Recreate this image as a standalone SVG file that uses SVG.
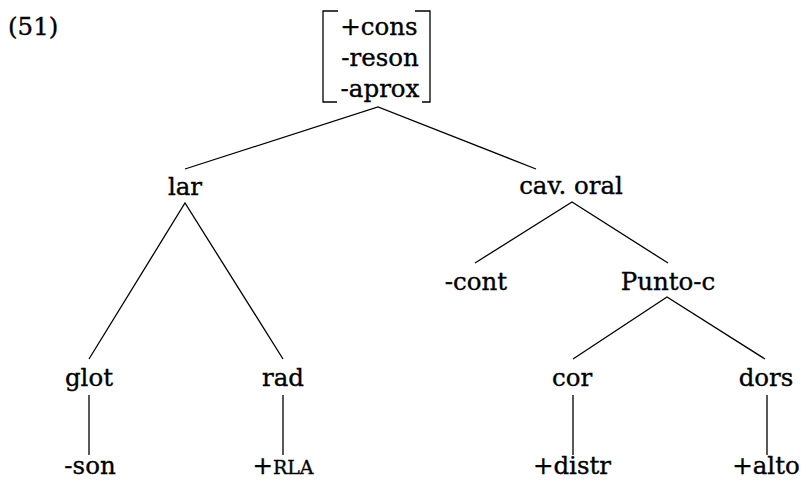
<svg xmlns="http://www.w3.org/2000/svg" width="801" height="483" viewBox="0 0 801 483">
<style>
text{font-family:"DejaVu Serif","Liberation Serif",serif;font-size:24.5px;fill:#000;stroke:#000;stroke-width:0.35;text-anchor:middle}
.l{stroke:#000;stroke-width:1.3;fill:none}
.sc{font-size:19px}
</style>
<rect width="801" height="483" fill="#fff"/>
<text x="8" y="35" style="text-anchor:start">(51)</text>
<g id="root">
<path class="l" d="M338,11H323V102H337M415,11H430V102H422"/>
<text x="379" y="35">+cons</text>
<text x="380" y="66">-reson</text>
<text x="380" y="97">-aprox</text>
</g>
<g id="lar"><text x="185" y="195">lar</text></g>
<g id="cavoral"><text x="571" y="194">cav. oral</text></g>
<g id="cont"><text x="476" y="290">-cont</text></g>
<g id="punto"><text x="668" y="290">Punto-c</text></g>
<g id="glot"><text x="89" y="386">glot</text></g>
<g id="rad"><text x="283" y="386">rad</text></g>
<g id="cor"><text x="572" y="386">cor</text></g>
<g id="dors"><text x="766" y="386">dors</text></g>
<g id="son"><text x="90" y="474">-son</text></g>
<g id="rla"><text x="283" y="474">+<tspan class="sc">RLA</tspan></text></g>
<g id="distr"><text x="572" y="474">+distr</text></g>
<g id="alto"><text x="766" y="474">+alto</text></g>
<g id="connectors" class="l">
<path class="l" d="M185,169L378,107L536,169"/>
<path class="l" d="M89,359L185,203L283,359"/>
<path class="l" d="M475,263L572,202L668,263"/>
<path class="l" d="M573,359L667,297L765,359"/>
<path class="l" d="M89,395V455M283,395V455M573,395V455M767,395V455"/>
</g>
</svg>
